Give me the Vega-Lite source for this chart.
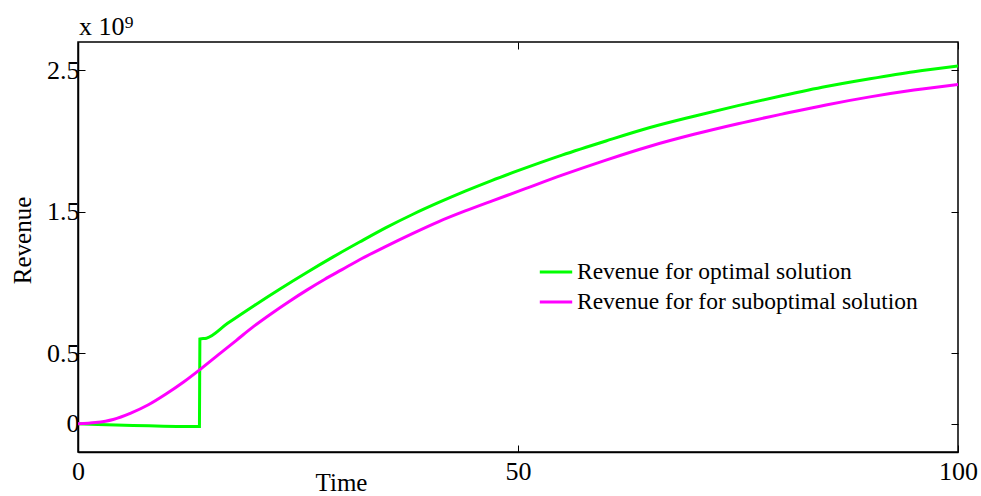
{
  "$schema": "https://vega.github.io/schema/vega-lite/v6.json",
  "width": 880,
  "height": 410,
  "autosize": {"type": "none"},
  "padding": {"left": 78, "top": 42, "right": 23, "bottom": 44},
  "background": "white",
  "title": {
    "text": "x 10⁹",
    "anchor": "start",
    "frame": "group",
    "font": "Liberation Serif",
    "fontSize": 26,
    "fontWeight": "normal",
    "color": "black",
    "offset": 2,
    "dx": 1
  },
  "config": {
    "view": {"stroke": "black", "strokeWidth": 1.5},
    "axis": {
      "labelFont": "Liberation Serif",
      "labelFontSize": 26,
      "labelColor": "black",
      "titleFont": "Liberation Serif",
      "titleFontSize": 25,
      "titleFontWeight": "normal",
      "titleColor": "black",
      "domainColor": "black",
      "domainWidth": 1.5,
      "tickColor": "black",
      "tickSize": -7,
      "grid": false
    }
  },
  "datasets": {
    "rev": [
      {"t": 0, "v": 0, "s": "Revenue for optimal solution"},
      {"t": 13.8, "v": -0.02, "s": "Revenue for optimal solution"},
      {"t": 13.85, "v": 0.6, "s": "Revenue for optimal solution"},
      {"t": 14.6, "v": 0.605, "s": "Revenue for optimal solution"},
      {"t": 17, "v": 0.71, "s": "Revenue for optimal solution"},
      {"t": 20, "v": 0.835, "s": "Revenue for optimal solution"},
      {"t": 23, "v": 0.955, "s": "Revenue for optimal solution"},
      {"t": 26, "v": 1.07, "s": "Revenue for optimal solution"},
      {"t": 29, "v": 1.18, "s": "Revenue for optimal solution"},
      {"t": 32, "v": 1.285, "s": "Revenue for optimal solution"},
      {"t": 35, "v": 1.387, "s": "Revenue for optimal solution"},
      {"t": 38, "v": 1.48, "s": "Revenue for optimal solution"},
      {"t": 41, "v": 1.565, "s": "Revenue for optimal solution"},
      {"t": 44, "v": 1.645, "s": "Revenue for optimal solution"},
      {"t": 47, "v": 1.72, "s": "Revenue for optimal solution"},
      {"t": 50, "v": 1.79, "s": "Revenue for optimal solution"},
      {"t": 55, "v": 1.9, "s": "Revenue for optimal solution"},
      {"t": 60, "v": 2.0, "s": "Revenue for optimal solution"},
      {"t": 65, "v": 2.095, "s": "Revenue for optimal solution"},
      {"t": 70, "v": 2.175, "s": "Revenue for optimal solution"},
      {"t": 75, "v": 2.25, "s": "Revenue for optimal solution"},
      {"t": 80, "v": 2.32, "s": "Revenue for optimal solution"},
      {"t": 85, "v": 2.385, "s": "Revenue for optimal solution"},
      {"t": 90, "v": 2.44, "s": "Revenue for optimal solution"},
      {"t": 95, "v": 2.49, "s": "Revenue for optimal solution"},
      {"t": 100, "v": 2.53, "s": "Revenue for optimal solution"},
      {"t": 0, "v": 0, "s": "Revenue for for suboptimal solution"},
      {"t": 2, "v": 0.008, "s": "Revenue for for suboptimal solution"},
      {"t": 4, "v": 0.03, "s": "Revenue for for suboptimal solution"},
      {"t": 6, "v": 0.075, "s": "Revenue for for suboptimal solution"},
      {"t": 8, "v": 0.134, "s": "Revenue for for suboptimal solution"},
      {"t": 10, "v": 0.21, "s": "Revenue for for suboptimal solution"},
      {"t": 12, "v": 0.295, "s": "Revenue for for suboptimal solution"},
      {"t": 14, "v": 0.39, "s": "Revenue for for suboptimal solution"},
      {"t": 16, "v": 0.49, "s": "Revenue for for suboptimal solution"},
      {"t": 18, "v": 0.59, "s": "Revenue for for suboptimal solution"},
      {"t": 20, "v": 0.69, "s": "Revenue for for suboptimal solution"},
      {"t": 22, "v": 0.78, "s": "Revenue for for suboptimal solution"},
      {"t": 24, "v": 0.865, "s": "Revenue for for suboptimal solution"},
      {"t": 26, "v": 0.945, "s": "Revenue for for suboptimal solution"},
      {"t": 28, "v": 1.02, "s": "Revenue for for suboptimal solution"},
      {"t": 30, "v": 1.09, "s": "Revenue for for suboptimal solution"},
      {"t": 32, "v": 1.16, "s": "Revenue for for suboptimal solution"},
      {"t": 35, "v": 1.255, "s": "Revenue for for suboptimal solution"},
      {"t": 38, "v": 1.345, "s": "Revenue for for suboptimal solution"},
      {"t": 41, "v": 1.43, "s": "Revenue for for suboptimal solution"},
      {"t": 44, "v": 1.505, "s": "Revenue for for suboptimal solution"},
      {"t": 47, "v": 1.575, "s": "Revenue for for suboptimal solution"},
      {"t": 50, "v": 1.643, "s": "Revenue for for suboptimal solution"},
      {"t": 55, "v": 1.758, "s": "Revenue for for suboptimal solution"},
      {"t": 60, "v": 1.865, "s": "Revenue for for suboptimal solution"},
      {"t": 65, "v": 1.963, "s": "Revenue for for suboptimal solution"},
      {"t": 70, "v": 2.047, "s": "Revenue for for suboptimal solution"},
      {"t": 75, "v": 2.122, "s": "Revenue for for suboptimal solution"},
      {"t": 80, "v": 2.19, "s": "Revenue for for suboptimal solution"},
      {"t": 85, "v": 2.255, "s": "Revenue for for suboptimal solution"},
      {"t": 90, "v": 2.312, "s": "Revenue for for suboptimal solution"},
      {"t": 95, "v": 2.36, "s": "Revenue for for suboptimal solution"},
      {"t": 100, "v": 2.4, "s": "Revenue for for suboptimal solution"}
    ]
  },
  "data": {"name": "rev"},
  "layer": [
    {
      "mark": {"type": "line", "strokeWidth": 3, "clip": true, "interpolate": "monotone"},
      "encoding": {
        "x": {
          "field": "t", "type": "quantitative",
          "scale": {"domain": [0, 100], "nice": false, "zero": false},
          "axis": {
            "orient": "bottom",
            "values": [0, 50, 100],
            "title": "Time",
            "titleX": 263,
            "titleY": 38,
            "titleAlign": "center",
            "titleBaseline": "alphabetic",
            "labelPadding": 13,
            "labelFlush": false
          }
        },
        "y": {
          "field": "v", "type": "quantitative",
          "scale": {"domain": [-0.2, 2.7], "nice": false, "zero": false},
          "axis": {
            "orient": "left",
            "values": [0, 0.5, 1.5, 2.5],
            "format": ".1~f",
            "title": "Revenue",
            "titleX": -56,
            "titleY": 198,
            "titleAngle": -90,
            "titleAlign": "center",
            "titleBaseline": "middle",
            "labelPadding": 6,
            "labelFlush": false
          }
        },
        "color": {
          "field": "s", "type": "nominal",
          "scale": {
            "domain": ["Revenue for optimal solution", "Revenue for for suboptimal solution"],
            "range": ["#00ff00", "#ff00ff"]
          },
          "legend": {
            "title": null,
            "orient": "none",
            "legendX": 460,
            "legendY": 212,
            "symbolType": "stroke",
            "symbolSize": 1050,
            "symbolStrokeWidth": 3,
            "labelFont": "Liberation Serif",
            "labelFontSize": 23.5,
            "labelColor": "black",
            "labelLimit": 500,
            "labelOffset": 3,
            "rowPadding": -14
          }
        }
      }
    },
    {
      "mark": {"type": "line", "opacity": 0},
      "encoding": {
        "x": {
          "field": "t", "type": "quantitative",
          "axis": {"orient": "top", "values": [0, 50, 100], "labels": false, "title": null, "domain": false}
        },
        "y": {
          "field": "v", "type": "quantitative",
          "axis": {"orient": "right", "values": [0, 0.5, 1.5, 2.5], "labels": false, "title": null, "domain": false}
        },
        "detail": {"field": "s", "type": "nominal"}
      }
    }
  ],
  "resolve": {"axis": {"x": "independent", "y": "independent"}}
}
